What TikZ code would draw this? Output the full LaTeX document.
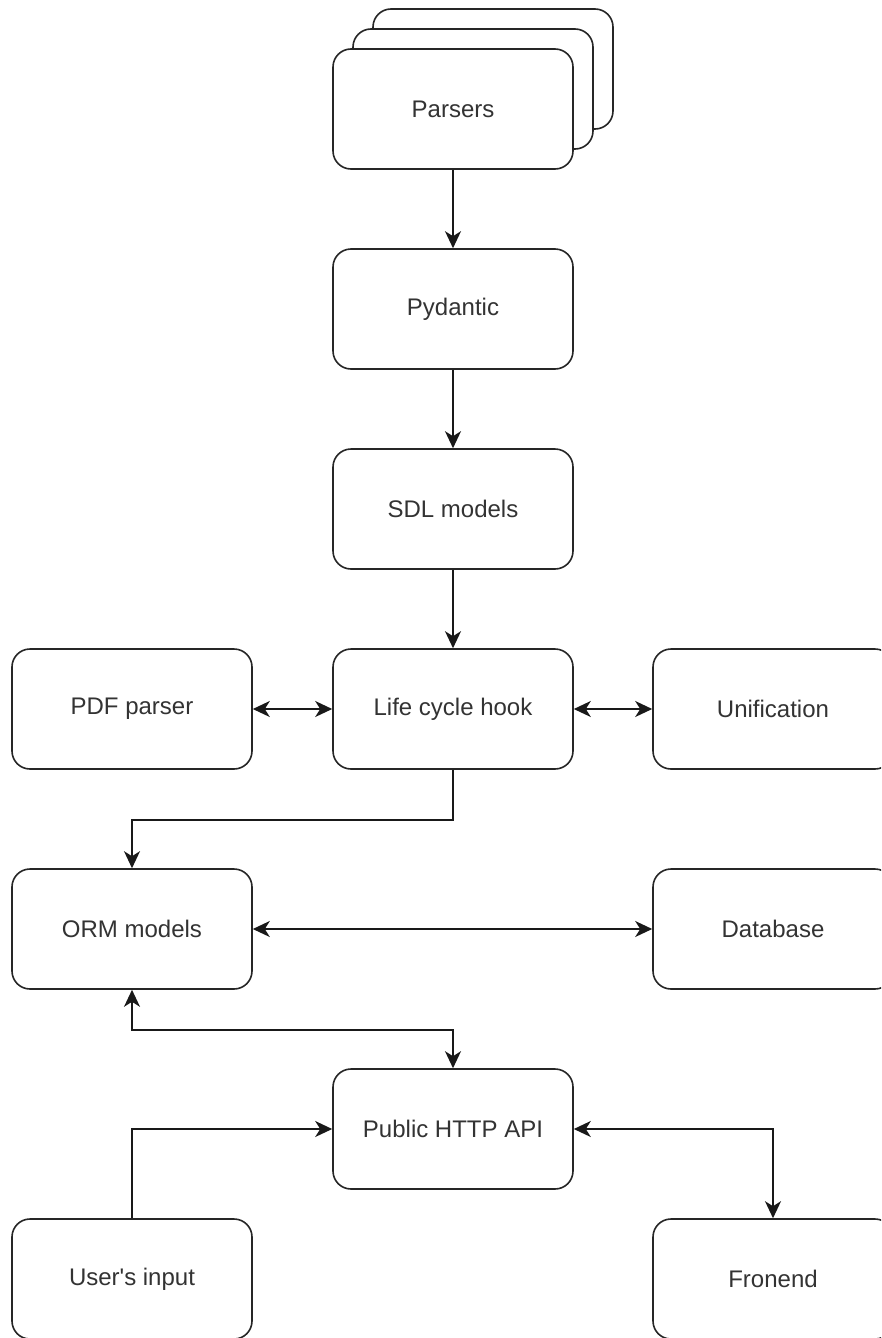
\documentclass[tikz,border=0pt]{standalone}
\usepackage{fontspec}
\setmainfont{Liberation Sans}
\usetikzlibrary{arrows.meta}
\definecolor{txt}{HTML}{333333}
\begin{document}
\begin{tikzpicture}[x=1pt,y=-1pt,
  box/.style={draw=black!85,line width=1.6pt,fill=white,rectangle,rounded corners=18pt,
    minimum width=240pt,minimum height=120pt,inner sep=0pt,
    font=\fontsize{24}{28}\selectfont,text=txt},
  conn/.style={line width=1.6pt,draw=black!90},
  tip/.tip={Stealth[length=17pt,width=16pt,inset=5pt]}]
\useasboundingbox (0,0) rectangle (881,1338);
\clip (0,0) rectangle (881,1338);
\node[box] (parsers3) at (493,69) {};
\node[box] (parsers2) at (473,89) {};
\node[box] (parsers) at (453,109) {Parsers};
\node[box] (pydantic) at (453,309) {Pydantic};
\node[box] (sdl) at (453,509) {SDL models};
\node[box] (life) at (453,709) {Life cycle hook};
\node[box] (pdf) at (132,709) {PDF parser};
\node[box] (unif) at (773,709) {Unification};
\node[box] (orm) at (132,929) {ORM models};
\node[box] (db) at (773,929) {Database};
\node[box] (api) at (453,1129) {Public HTTP API};
\node[box] (user) at (132,1279) {User\textquotesingle s input};
\node[box] (front) at (773,1279) {Fronend};
\draw[conn,-tip] (parsers.south) -- (pydantic.north);
\draw[conn,-tip] (pydantic.south) -- (sdl.north);
\draw[conn,-tip] (sdl.south) -- (life.north);
\draw[conn,tip-tip] (pdf.east) -- (life.west);
\draw[conn,tip-tip] (life.east) -- (unif.west);
\draw[conn,-tip] (life.south) -- ++(0,50) -| (orm.north);
\draw[conn,tip-tip] (orm.east) -- (db.west);
\draw[conn,tip-tip] (orm.south) -- ++(0,40) -| (api.north);
\draw[conn,-tip] (user.north) |- (api.west);
\draw[conn,tip-tip] (api.east) -| (front.north);
\end{tikzpicture}
\end{document}
